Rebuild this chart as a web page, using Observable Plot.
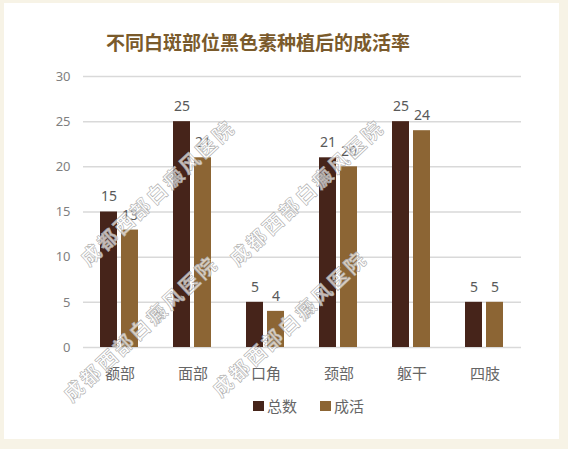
<!DOCTYPE html>
<html>
<head>
<meta charset="utf-8">
<script src="https://cdn.jsdelivr.net/npm/d3@7"></script>
<script src="https://cdn.jsdelivr.net/npm/@observablehq/plot@0.6"></script>
<style>
  html, body { margin: 0; padding: 0; }
  body { width: 568px; height: 449px; background: #f7f3e6; position: relative; overflow: hidden;
         font-family: "Noto Sans CJK SC", "Noto Sans", sans-serif; }
  #card { position: absolute; left: 4px; top: 3px; width: 555px; height: 436px; background: #ffffff; }
  #title { position: absolute; left: 0; width: 516px; top: 29px; text-align: center; font-size: 19px;
           font-weight: bold; color: #7a5a2b; line-height: 26px; letter-spacing: 0px; }
  #chart { position: absolute; left: 0; top: 60px; }
  #legend { position: absolute; top: 396px; left: 253px; display: flex; align-items: center; font-size: 15px; color: #666; line-height: 20px; }
  #legend .item { display: flex; align-items: center; margin-right: 23px; }
  #legend .sw { width: 11px; height: 10px; margin-right: 3px; }
  #wm { position: absolute; left: 0; top: 0; pointer-events: none; }
</style>
</head>
<body>
<div id="card"></div>
<div id="title">不同白斑部位黑色素种植后的成活率</div>
<div id="chart"></div>
<div id="legend"></div>
<svg id="wm" width="568" height="449"></svg>
<script>
const categories = ["额部", "面部", "口角", "颈部", "躯干", "四肢"];
const seriesNames = ["总数", "成活"];
const totals = [15, 25, 5, 21, 25, 5];
const survived = [13, 21, 4, 20, 24, 5];
const yTicks = [0, 5, 10, 15, 20, 25, 30];
const colors = ["#46241a", "#8c6534"];
const title = "不同白斑部位黑色素种植后的成活率";
const watermark = "成都西部白癜风医院";

const data = categories.flatMap((c, i) => [
  {cat: c, series: seriesNames[0], value: totals[i]},
  {cat: c, series: seriesNames[1], value: survived[i]}
]);

const chart = Plot.plot({
  width: 568,
  height: 330,
  marginLeft: 81,
  marginRight: 46,
  marginTop: 16,
  marginBottom: 43,
  style: {background: "transparent", fontFamily: "'Noto Sans', 'Noto Sans CJK SC', sans-serif", overflow: "visible"},
  fx: {domain: categories, padding: 0, axis: null, label: null},
  x: {domain: seriesNames, paddingInner: 0.173, paddingOuter: 0.804, axis: null},
  y: {domain: [0, 30], axis: null},
  color: {domain: seriesNames, range: colors},
  marks: [
    Plot.gridY(yTicks, {stroke: "#d9d9d9", strokeOpacity: 1, strokeWidth: 1.5}),
    Plot.axisY(yTicks, {tickSize: 0, tickPadding: 13, fontSize: 13, fill: "#7f7f7f", label: null}),
    Plot.axisFx({anchor: "bottom", tickSize: 0, tickPadding: 21, fontSize: 15, fill: "#666666", label: null,
                 fontFamily: "'Noto Sans CJK SC', sans-serif"}),
    Plot.barY(data, {fx: "cat", x: "series", y: "value", fill: "series"}),
    Plot.text(data, {fx: "cat", x: "series", y: "value", text: d => String(d.value), dy: -15,
                     fontSize: 14, fill: "#595959"})
  ]
});
document.getElementById("chart").appendChild(chart);

const legend = d3.select("#legend");
seriesNames.forEach((s, i) => {
  const it = legend.append("div").attr("class", "item");
  it.append("div").attr("class", "sw").style("background", colors[i]);
  it.append("span").text(s);
});

// watermark overlay
const wm = d3.select("#wm");
const spots = [[140, 328], [157, 192], [289, 323], [306, 192]];
spots.forEach(([cx, cy]) => {
  wm.append("text")
    .attr("transform", `translate(${cx},${cy}) rotate(-43)`)
    .attr("text-anchor", "middle")
    .attr("dominant-baseline", "central")
    .attr("font-size", 20)
    .attr("font-weight", "bold")
    .attr("letter-spacing", 2.5)
    .attr("font-family", "'Noto Sans CJK SC', sans-serif")
    .attr("fill", "#ffffff")
    .attr("fill-opacity", 0.7)
    .attr("stroke", "#a8a8a8")
    .attr("stroke-width", 0.55)
    .text(watermark);
});
</script>
</body>
</html>
